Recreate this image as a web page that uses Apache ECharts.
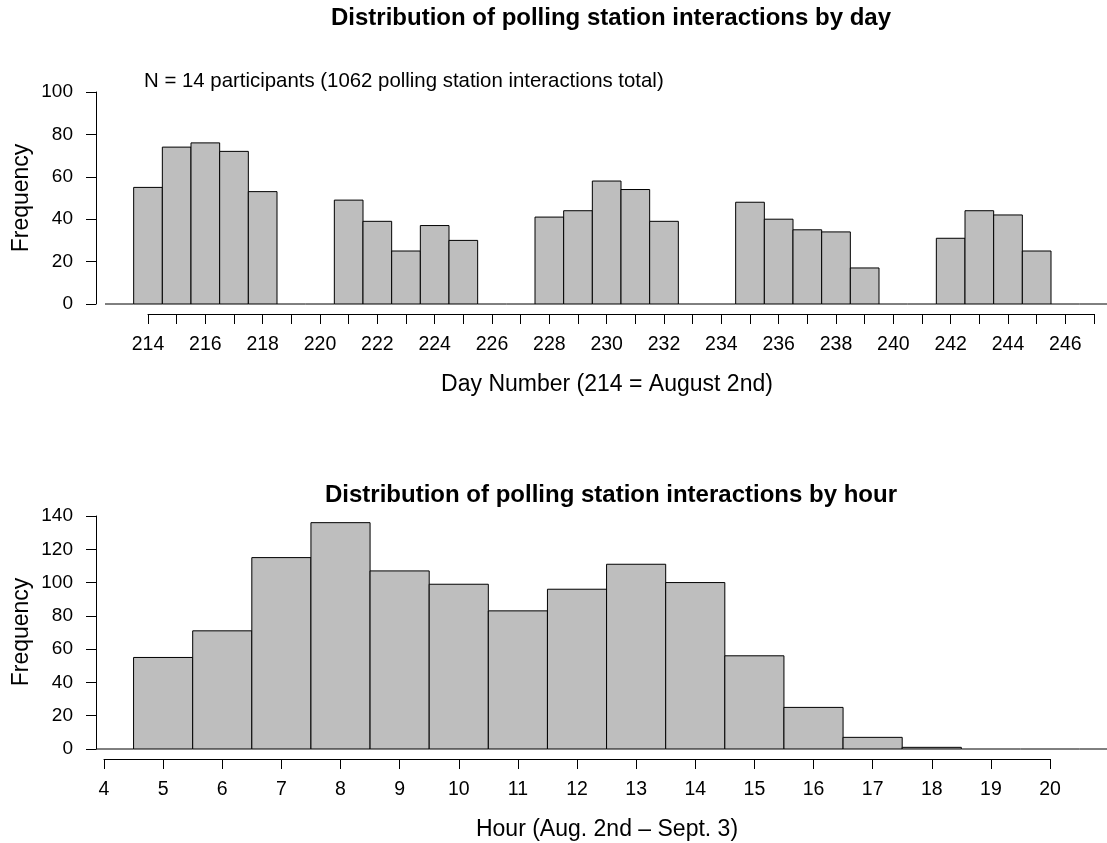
<!doctype html>
<html>
	<head>
		<meta charset="utf-8">
		<title>Polling station interactions</title>
		<style>
			html, body { margin: 0; padding: 0; background: #fff; }
			#main { width: 1107px; height: 843px; }
		</style>
	</head>
	<body>
		<div id="main"></div>
		<script src="https://cdn.jsdelivr.net/npm/echarts@6/dist/echarts.min.js"></script>
		<script type="text/javascript">
			// counts per day (bins of one day, centred on the day number)
			var days = [213, 214, 215, 216, 217, 218, 219, 220, 221, 222, 223, 224, 225, 226, 227, 228, 229, 230,
				231, 232, 233, 234, 235, 236, 237, 238, 239, 240, 241, 242, 243, 244, 245, 246, 247, 248];
			var dayCounts = [0, 55, 74, 76, 72, 53, 0, 0, 49, 39, 25, 37, 30, 0, 0, 41, 44, 58,
				54, 39, 0, 0, 48, 40, 35, 34, 17, 0, 0, 31, 44, 42, 25, 0, 0, 0];
			// counts per hour
			var hours = [3, 4, 5, 6, 7, 8, 9, 10, 11, 12, 13, 14, 15, 16, 17, 18, 19, 20, 21, 22];
			var hourCounts = [0, 0, 55, 71, 115, 136, 107, 99, 83, 96, 111, 100, 56, 25, 7, 1, 0, 0, 0, 0];
			// axis ranges
			var dayAxis = [214, 247];
			var hourAxis = [4, 20];
			var dayFreqMax = 100;
			var hourFreqMax = 140;

			var font = "'Liberation Sans', Arial, Helvetica, sans-serif";
			var dayYOffset = 52;
			var hourYOffset = 8;

			function pairs(xs, ys) {
				var out = [];
				for (var i = 0; i < xs.length; i++) {
					out.push([xs[i], ys[i]]);
				}
				return out;
			}

			// one rect per bin, empty bins are drawn as a line on zero
			function histItem(yOffset) {
				return function(params, api) {
					var x = api.value(0);
					var n = api.value(1);
					var p0 = api.coord([x - 0.5, 0]);
					var p1 = api.coord([x + 0.5, n]);
					var plotLeft = params.coordSys.x - yOffset;
					if (n === 0) {
						var x1 = Math.max(p0[0], plotLeft);
						return {
							type: 'line',
							shape: { x1: x1, y1: p0[1], x2: Math.max(p1[0], x1), y2: p0[1] },
							style: { stroke: '#000', lineWidth: 1 }
						};
					}
					return {
						type: 'rect',
						shape: { x: p0[0], y: p1[1], width: p1[0] - p0[0], height: p0[1] - p1[1] },
						style: { fill: '#bebebe', stroke: '#000', lineWidth: 1 }
					};
				};
			}

			function xAxisOf(grid, range, formatter) {
				return {
					type: 'value', gridIndex: grid, min: range[0], max: range[1], interval: 1,
					position: 'bottom', offset: 10,
					axisLine: { show: true, onZero: false, lineStyle: { color: '#000', width: 1 } },
					axisTick: { show: true, length: 10, lineStyle: { color: '#000', width: 1 } },
					axisLabel: { color: '#000', fontSize: 19.5, fontFamily: font, margin: 21, formatter: formatter },
					splitLine: { show: false }
				};
			}

			function yAxisOf(grid, max, offset) {
				return {
					type: 'value', gridIndex: grid, min: 0, max: max, interval: 20,
					position: 'left', offset: offset,
					axisLine: { show: true, onZero: false, lineStyle: { color: '#000', width: 1 } },
					axisTick: { show: true, length: 10, lineStyle: { color: '#000', width: 1 } },
					axisLabel: { color: '#000', fontSize: 19, fontFamily: font, margin: 23 },
					splitLine: { show: false }
				};
			}

			function label(text, x, y, size, opts) {
				var o = {
					type: 'text', x: x, y: y,
					style: {
						text: text, fill: '#000', font: (opts && opts.bold ? 'bold ' : '') + size + 'px ' + font,
						align: (opts && opts.align) || 'center', verticalAlign: 'middle'
					}
				};
				if (opts && opts.rotate) o.rotation = Math.PI / 2;
				return o;
			}

			var chart = echarts.init(document.getElementById('main'));
			chart.setOption({
				animation: false,
				grid: [
					{ left: 148, right: 13, top: 92, height: 212 },
					{ left: 104, right: 57, top: 516, height: 233 }
				],
				xAxis: [
					xAxisOf(0, dayAxis, function(v) { return v % 2 === 0 ? String(v) : ''; }),
					xAxisOf(1, hourAxis, function(v) { return String(v); })
				],
				yAxis: [
					yAxisOf(0, dayFreqMax, dayYOffset),
					yAxisOf(1, hourFreqMax, hourYOffset)
				],
				series: [
					{
						type: 'custom', xAxisIndex: 0, yAxisIndex: 0, clip: false, silent: true,
						renderItem: histItem(dayYOffset), encode: { x: 0, y: 1 },
						data: pairs(days, dayCounts)
					},
					{
						type: 'custom', xAxisIndex: 1, yAxisIndex: 1, clip: false, silent: true,
						renderItem: histItem(hourYOffset), encode: { x: 0, y: 1 },
						data: pairs(hours, hourCounts)
					}
				],
				graphic: [
					label('Distribution of polling station interactions by day', 611, 18, 24, { bold: true }),
					label('N = 14 participants (1062 polling station interactions total)', 144, 81, 20.4, { align: 'left' }),
					label('Frequency', 22, 198, 23, { rotate: true }),
					label('Day Number (214 = August 2nd)', 607, 385, 23),
					label('Distribution of polling station interactions by hour', 611, 495, 24, { bold: true }),
					label('Frequency', 22, 632, 23, { rotate: true }),
					label('Hour (Aug. 2nd \u2013 Sept. 3)', 607, 830, 23)
				]
			});
		</script>
	</body>
</html>
